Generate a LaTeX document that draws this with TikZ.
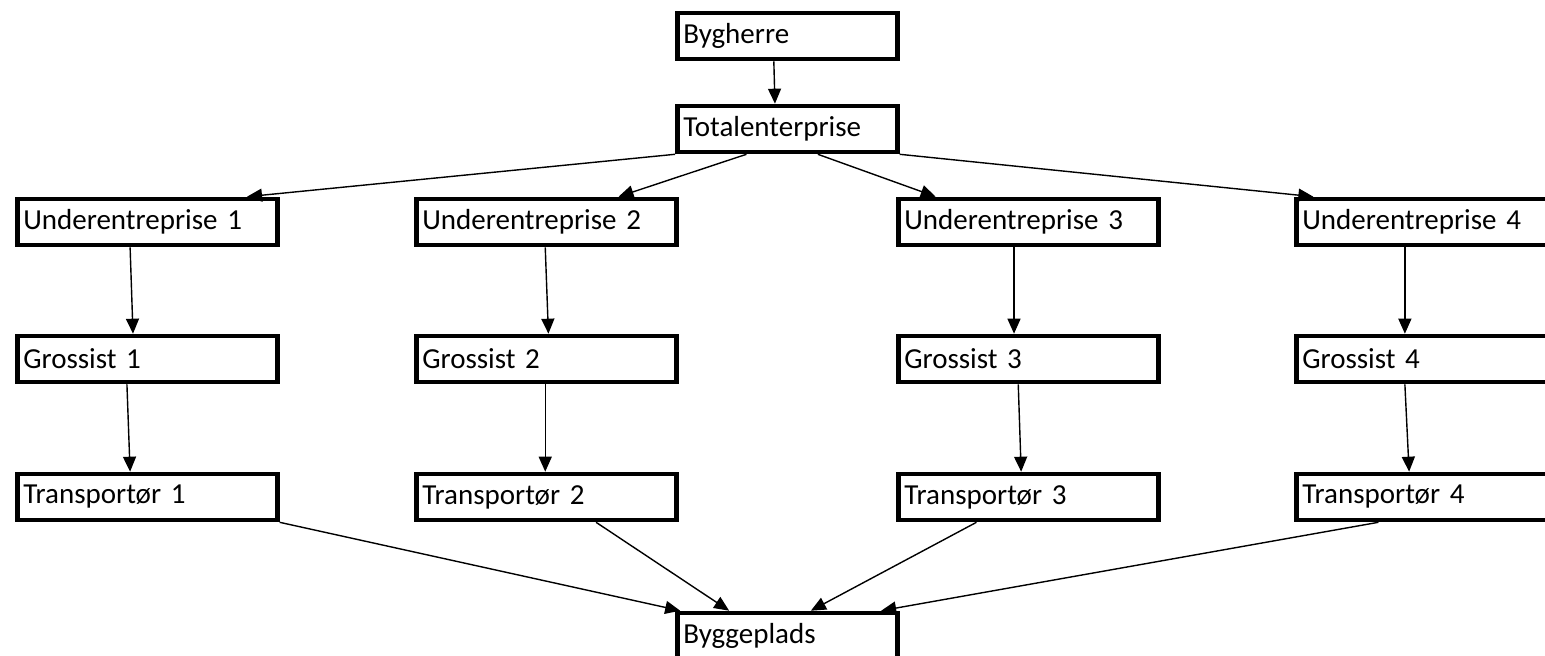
\documentclass[tikz,border=0pt]{standalone}
\usepackage{fontspec}
\setmainfont{Carlito}
\usetikzlibrary{calc,arrows.meta}

\begin{document}
\begin{tikzpicture}[x=0.5pt,y=-0.5pt]
	\tikzstyle{box}=[rectangle, draw=black, line width=2.3pt, anchor=west, minimum height=23pt, inner xsep=3pt, inner ysep=0pt, text width=124pt, align=left, font=\fontsize{14.5}{17}\selectfont]
	\tikzstyle{smallbox}=[box, text width=104pt]
	\tikzstyle{connect}=[-{Triangle[length=7.5pt,width=6.5pt]}, line width=0.7pt]
	\useasboundingbox (0,0) rectangle (1545,656);
	% top
	\node[smallbox] (by) at (675,36) {Bygherre};
	\node[smallbox] (tot) at (675,129) {Totalenterprise};
	% underentrepriser
	\node[box] (u1) at (15,222) {Underentreprise 1};
	\node[box] (u2) at (414,222) {Underentreprise 2};
	\node[box] (u3) at (896,222) {Underentreprise 3};
	\node[box] (u4) at (1294,222) {Underentreprise 4};
	% grossister
	\node[box] (g1) at (15,359) {Grossist 1};
	\node[box] (g2) at (414,359) {Grossist 2};
	\node[box] (g3) at (896,359) {Grossist 3};
	\node[box] (g4) at (1294,359) {Grossist 4};
	% transportoerer
	\node[box] (t1) at (15,497) {Transportør 1};
	\node[box] (t2) at (414,497) {Transportør 2};
	\node[box] (t3) at (896,497) {Transportør 3};
	\node[box] (t4) at (1294,497) {Transportør 4};
	\node[smallbox] (bp) at (675,636) {Byggeplads};

	\path
	($(by.south west)!0.44!(by.south east)$) edge [connect] ($(tot.north west)!0.445!(tot.north east)$)
	(tot.south west) edge [connect] ($(u1.north west)!0.877!(u1.north east)$)
	($(tot.south west)!0.318!(tot.south east)$) edge [connect] ($(u2.north west)!0.773!(u2.north east)$)
	($(tot.south west)!0.636!(tot.south east)$) edge [connect] ($(u3.north west)!0.15!(u3.north east)$)
	(tot.south east) edge [connect] ($(u4.north west)!0.073!(u4.north east)$);
	% columns
	\path
	($(u1.south west)!0.435!(u1.south east)$) edge [connect] ($(g1.north west)!0.446!(g1.north east)$)
	($(g1.south west)!0.423!(g1.south east)$) edge [connect] ($(t1.north west)!0.435!(t1.north east)$)
	($(u2.south west)!0.496!(u2.south east)$) edge [connect] ($(g2.north west)!0.508!(g2.north east)$)
	($(g2.south west)!0.496!(g2.south east)$) edge [connect] ($(t2.north west)!0.496!(t2.north east)$)
	($(u3.south west)!0.446!(u3.south east)$) edge [connect] ($(g3.north west)!0.446!(g3.north east)$)
	($(g3.south west)!0.462!(g3.south east)$) edge [connect] ($(t3.north west)!0.473!(t3.north east)$)
	($(u4.south west)!0.419!(u4.south east)$) edge [connect] ($(g4.north west)!0.419!(g4.north east)$)
	($(g4.south west)!0.419!(g4.south east)$) edge [connect] ($(t4.north west)!0.435!(t4.north east)$);
	% til byggepladsen
	\path
	(t1.south east) edge [connect] ($(bp.north west)!0.023!(bp.north east)$)
	($(t2.south west)!0.688!(t2.south east)$) edge [connect] ($(bp.north west)!0.241!(bp.north east)$)
	($(t3.south west)!0.304!(t3.south east)$) edge [connect] ($(bp.north west)!0.605!(bp.north east)$)
	($(t4.south west)!0.319!(t4.south east)$) edge [connect] ($(bp.north west)!0.918!(bp.north east)$);
\end{tikzpicture}
\end{document}
